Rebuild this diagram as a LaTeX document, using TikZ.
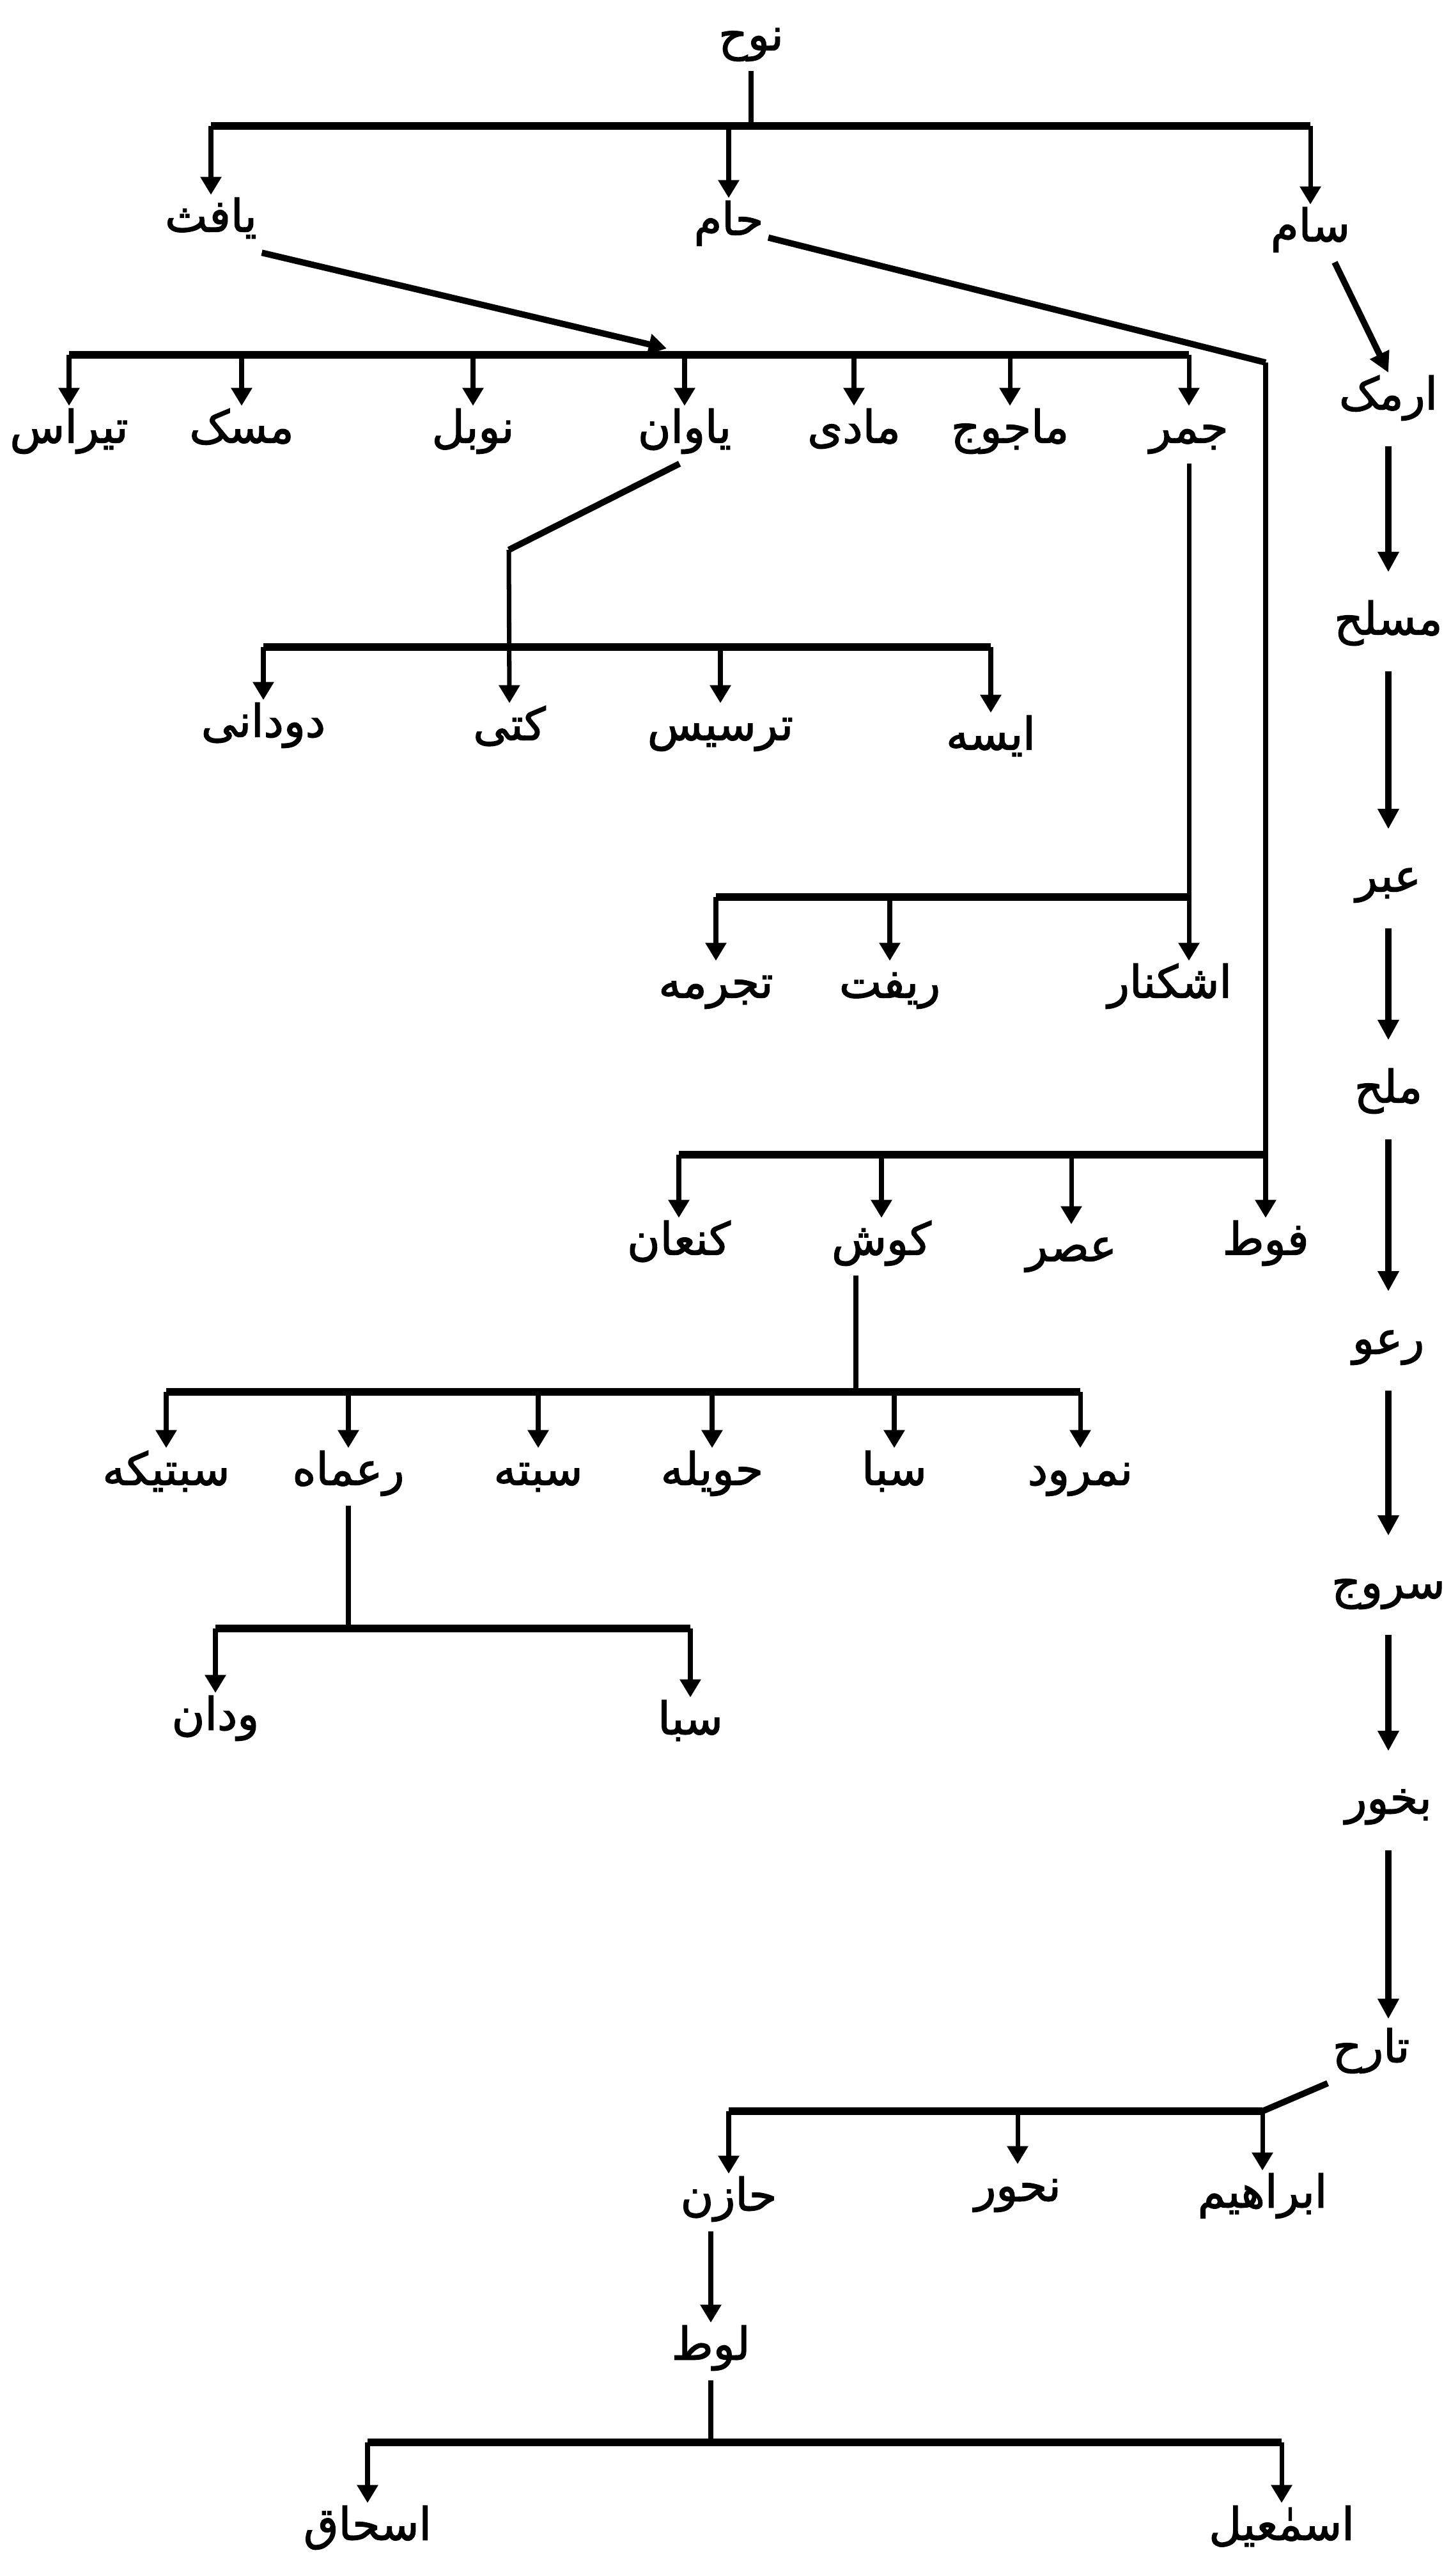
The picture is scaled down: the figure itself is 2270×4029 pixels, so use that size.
\documentclass[tikz,border=0pt]{standalone}
\usepackage{fontspec}
\usetikzlibrary{arrows.meta}
\newfontfamily\urdu[Script=Arabic, FakeBold=2]{DejaVu Sans}
\TeXXeTstate=1
\newcommand{\ur}[1]{{\urdu\fontsize{20}{24}\selectfont\beginR #1\endR}}

\tikzset{
    person/.style = {inner sep = 2pt, text height = 0.5cm, text depth = 0.25cm},
    bar/.style = {line width = 3.6pt},
    link/.style = {line width = 2.2pt},
    slant/.style = {line width = 2.8pt},
    stem/.style = {line width = 2pt, -{Triangle[width = 9pt, length = 8pt]}},
    chainarr/.style = {line width = 2.8pt, -{Triangle[width = 9pt, length = 9pt]}, shorten <= 0.25cm, shorten >= 0.4cm}
}

\begin{document}
\begin{tikzpicture}[x = 0.01cm, y = -0.01cm]
    \useasboundingbox (0,0) rectangle (2270,4029);

    \node[person] (nuh) at (1175,66) {\ur{نوح}};
    \node[person] (yafith) at (330,350) {\ur{یافث}};
    \node[person] (ham) at (1140,355) {\ur{حام}};
    \node[person] (sam) at (2050,365) {\ur{سام}};
    \coordinate (top) at (0,197);
    \draw[link] (nuh.south) -- (nuh.south |- top);
    \draw[bar] (yafith.north |- top) -- (sam.north |- top);
    \foreach \n in {yafith,ham,sam}
        \draw[stem] (\n.north |- top) -- (\n.north);

    % yafith
    \node[person] (tiras) at (108,680) {\ur{تیراس}};
    \node[person] (mask) at (378,680) {\ur{مسک}};
    \node[person] (nubal) at (740,680) {\ur{نوبل}};
    \node[person] (yawan) at (1071,680) {\ur{یاوان}};
    \node[person] (madai) at (1336,680) {\ur{مادی}};
    \node[person] (majuj) at (1580,680) {\ur{ماجوج}};
    \node[person] (jamar) at (1860,680) {\ur{جمر}};
    \coordinate (gen1) at (0,555);
    \coordinate (yafithin) at (1043,545);
    \draw[slant, -{Triangle[width = 9pt, length = 8pt]}] (yafith.south east) -- (yafithin);
    \draw[bar] (tiras.north |- gen1) -- (jamar.north |- gen1);
    \foreach \n in {tiras,mask,nubal,yawan,madai,majuj,jamar}
        \draw[stem] (\n.north |- gen1) -- (\n.north);

    \node[person] (dudani) at (412,1140) {\ur{دودانی}};
    \node[person] (kitti) at (797,1145) {\ur{کتی}};
    \node[person] (tarsis) at (1127,1145) {\ur{ترسیس}};
    \node[person] (aisah) at (1550,1160) {\ur{ایسه}};
    \coordinate (gen3) at (0,1012);
    \coordinate (yawanknee) at (796,860);
    \draw[slant] (yawan.-100) -- (yawanknee);
    \draw[stem] (yawanknee) -- (kitti.north);
    \draw[bar] (dudani.north |- gen3) -- (aisah.north |- gen3);
    \foreach \n in {dudani,tarsis,aisah}
        \draw[stem] (\n.north |- gen3) -- (\n.north);

    \node[person] (tajarma) at (1120,1548) {\ur{تجرمه}};
    \node[person] (rifat) at (1392,1548) {\ur{ریفت}};
    \node[person] (ashkenaz) at (1830,1548) {\ur{اشکنار}};
    \coordinate (gen4) at (0,1403);
    \draw[stem] (jamar.south) -- (jamar.south |- ashkenaz.north);
    \draw[bar] (tajarma.north |- gen4) -- (jamar.south |- gen4);
    \foreach \n in {tajarma,rifat}
        \draw[stem] (\n.north |- gen4) -- (\n.north);

    % ham
    \node[person] (kanaan) at (1062,1950) {\ur{کنعان}};
    \node[person] (kush) at (1379,1950) {\ur{کوش}};
    \node[person] (asar) at (1676,1960) {\ur{عصر}};
    \node[person] (fut) at (1980,1950) {\ur{فوط}};
    \coordinate (gen2) at (0,1806);
    \coordinate (hamknee) at (1980,567);
    \draw[slant] (ham.-15) -- (hamknee);
    \draw[link, -{Triangle[width = 9pt, length = 8pt]}] (hamknee) -- (fut.north);
    \draw[bar] (kanaan.north |- gen2) -- (fut.north |- gen2);
    \foreach \n in {kanaan,kush,asar}
        \draw[stem] (\n.north |- gen2) -- (\n.north);

    \node[person] (sabtika) at (260,2310) {\ur{سبتیکه}};
    \node[person] (raamah) at (545,2310) {\ur{رعماه}};
    \node[person] (sabta) at (842,2310) {\ur{سبته}};
    \node[person] (havila) at (1114,2310) {\ur{حویله}};
    \node[person] (saba) at (1399,2310) {\ur{سبا}};
    \node[person] (nimrud) at (1690,2310) {\ur{نمرود}};
    \coordinate (gen5) at (0,2177);
    \draw[link] ([xshift = -0.4cm]kush.south) -- ([xshift = -0.4cm]kush.south |- gen5);
    \draw[bar] (sabtika.north |- gen5) -- (nimrud.north |- gen5);
    \foreach \n in {sabtika,raamah,sabta,havila,saba,nimrud}
        \draw[stem] (\n.north |- gen5) -- (\n.north);

    \node[person] (wadan) at (337,2693) {\ur{ودان}};
    \node[person] (sabatwo) at (1080,2700) {\ur{سبا}};
    \coordinate (gen6) at (0,2547);
    \draw[link] (raamah.south) -- (raamah.south |- gen6);
    \draw[bar] (wadan.north |- gen6) -- (sabatwo.north |- gen6);
    \foreach \n in {wadan,sabatwo}
        \draw[stem] (\n.north |- gen6) -- (\n.north);

    % sam
    \node[person] (armak) at (2172,628) {\ur{ارمک}};
    \node[person] (musalah) at (2172,980) {\ur{مسلح}};
    \node[person] (abar) at (2172,1382) {\ur{عبر}};
    \node[person] (malah) at (2172,1712) {\ur{ملح}};
    \node[person] (rau) at (2172,2105) {\ur{رعو}};
    \node[person] (saruj) at (2172,2487) {\ur{سروج}};
    \node[person] (bakhur) at (2172,2824) {\ur{بخور}};
    \node[person] (tarah) at (2145,3213) {\ur{تارح}};
    \draw[chainarr, shorten <= 0cm, shorten >= 0cm] (sam.-50) -- (armak.north);
    \foreach \a/\b in {armak/musalah,musalah/abar,abar/malah,malah/rau,rau/saruj,saruj/bakhur}
        \draw[chainarr] (\a) -- (\b);
    \draw[chainarr, shorten >= 0.1cm] (bakhur) -- (bakhur |- tarah.north);

    \node[person] (haran) at (1140,3445) {\ur{حازن}};
    \node[person] (nahur) at (1592,3430) {\ur{نحور}};
    \node[person] (ibrahim) at (1975,3440) {\ur{ابراهیم}};
    \coordinate (gen7) at (0,3302);
    \draw[slant] (tarah.south west) -- (ibrahim.north |- gen7);
    \draw[bar] (haran.north |- gen7) -- (ibrahim.north |- gen7);
    \foreach \n in {haran,nahur,ibrahim}
        \draw[stem] (\n.north |- gen7) -- (\n.north);

    \node[person] (lot) at (1112,3678) {\ur{لوط}};
    \draw[stem] (lot.north |- haran.south) -- (lot.north);
    \node[person] (ishaq) at (575,3960) {\ur{اسحاق}};
    \node[person] (ismail) at (2005,3960) {\ur{اسمٰعیل}};
    \coordinate (gen8) at (0,3820);
    \draw[link] (lot.south) -- (lot.south |- gen8);
    \draw[bar] (ishaq.north |- gen8) -- (ismail.north |- gen8);
    \foreach \n in {ishaq,ismail}
        \draw[stem] (\n.north |- gen8) -- (\n.north);
\end{tikzpicture}
\end{document}
